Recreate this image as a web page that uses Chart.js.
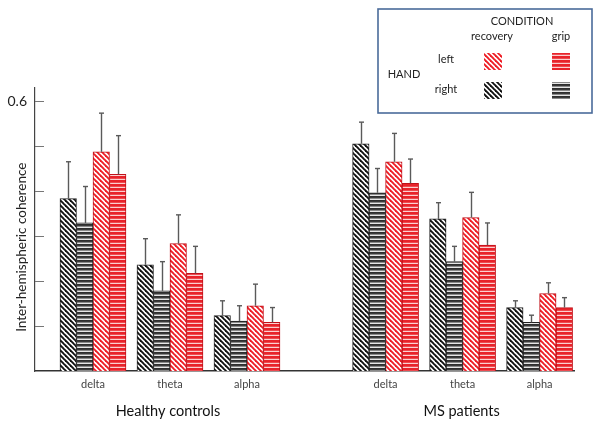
<!DOCTYPE html>
<html>
<head>
<meta charset="utf-8">
<script src="https://cdn.jsdelivr.net/npm/chart.js@4"></script>
<style>
html,body{margin:0;padding:0;background:#fff;}
#wrap{width:600px;height:425px;position:relative;}
</style>
</head>
<body>
<div id="wrap"><canvas id="c" width="600" height="425"></canvas></div>
<script>
// ---- data ----
const categories = ['delta', 'theta', 'alpha', 'delta', 'theta', 'alpha'];
const groupTitles = ['Healthy controls', 'MS patients'];
const seriesNames = ['right / recovery', 'right / grip', 'left / recovery', 'left / grip'];
const rightRecovery = [0.383, 0.236, 0.123, 0.505, 0.338, 0.141];
const rightGrip     = [0.329, 0.178, 0.111, 0.396, 0.243, 0.108];
const leftRecovery  = [0.487, 0.283, 0.145, 0.465, 0.341, 0.172];
const leftGrip      = [0.437, 0.217, 0.108, 0.417, 0.280, 0.141];
const rightRecoveryErr = [0.082, 0.058, 0.033, 0.048, 0.036, 0.015];
const rightGripErr     = [0.081, 0.065, 0.034, 0.054, 0.034, 0.016];
const leftRecoveryErr  = [0.086, 0.064, 0.048, 0.063, 0.056, 0.024];
const leftGripErr      = [0.086, 0.060, 0.033, 0.054, 0.049, 0.022];
const yTickValues = [0.1, 0.2, 0.3, 0.4, 0.5, 0.6];
const yTickLabels = ['', '', '', '', '', '0.6'];

// ---- layout (not data) ----
const slots = [0, 1, 2, 3.8, 4.8, 5.8];
const FONT = 'Lato, "Open Sans", sans-serif';

function diagPattern(color) {
  const s = 5, c = document.createElement('canvas');
  c.width = s; c.height = s;
  const g = c.getContext('2d');
  g.fillStyle = '#fff'; g.fillRect(0, 0, s, s);
  g.strokeStyle = color; g.lineWidth = 1.9;
  for (const o of [-s, 0, s]) { g.beginPath(); g.moveTo(o - 1, -1); g.lineTo(o + s + 1, s + 1); g.stroke(); }
  return g.createPattern(c, 'repeat');
}
function horizPattern(rows) {
  const c = document.createElement('canvas');
  c.width = 4; c.height = rows.length;
  const g = c.getContext('2d');
  rows.forEach((col, i) => { g.fillStyle = col; g.fillRect(0, i, 4, 1); });
  return g.createPattern(c, 'repeat');
}
const fills = [
  diagPattern('#111'),
  horizPattern(['#2e2e2e', '#3a3a3a', '#8a8a8a', '#e6e6e6']),
  diagPattern('#ee1c24'),
  horizPattern(['#e8232a', '#e8232a', '#ee4a50', '#fbd0d0'])
];
const borders = ['#222', '#222', '#c01018', '#c01018'];
const values = [rightRecovery, rightGrip, leftRecovery, leftGrip];
const errors = [rightRecoveryErr, rightGripErr, leftRecoveryErr, leftGripErr];

const datasets = values.map((vals, i) => ({
  label: seriesNames[i],
  data: vals.map((v, j) => ({ x: slots[j], y: v })),
  errors: errors[i],
  backgroundColor: fills[i],
  borderColor: borders[i],
  borderWidth: 1,
  barThickness: 16.5,
  grouped: true
}));

const extras = {
  id: 'extras',
  afterDatasetsDraw(chart) {
    const ctx = chart.ctx, ys = chart.scales.y;
    ctx.save();
    chart.data.datasets.forEach((ds, i) => {
      const meta = chart.getDatasetMeta(i);
      meta.data.forEach((el, j) => {
        const top = ys.getPixelForValue(ds.data[j].y + ds.errors[j]);
        const x = Math.round(el.x) + 0.5;
        ctx.strokeStyle = '#5a5a5a'; ctx.lineWidth = 1.4;
        ctx.beginPath(); ctx.moveTo(x, el.y); ctx.lineTo(x, top); ctx.stroke();
        ctx.beginPath(); ctx.moveTo(x - 2.5, top); ctx.lineTo(x + 2.5, top); ctx.stroke();
      });
    });
    const xl = chart.scales.x.left;
    ctx.strokeStyle = '#777'; ctx.lineWidth = 1;
    yTickValues.forEach(v => {
      const y = Math.round(ys.getPixelForValue(v)) + 0.5;
      ctx.beginPath(); ctx.moveTo(xl, y); ctx.lineTo(xl + 9, y); ctx.stroke();
    });
    ctx.restore();
  },
  afterDraw(chart) {
    const ctx = chart.ctx, xs = chart.scales.x, ys = chart.scales.y;
    ctx.save();
    ctx.fillStyle = '#222';
    ctx.font = '13.5px ' + FONT;
    ctx.textAlign = 'center'; ctx.textBaseline = 'middle';
    ctx.translate(21.5, (ys.top + ys.bottom) / 2 + 18);
    ctx.rotate(-Math.PI / 2);
    ctx.fillText('Inter-hemispheric coherence', 0, 0);
    ctx.setTransform(1, 0, 0, 1, 0, 0);
    ctx.font = '14.5px ' + FONT;
    ctx.fillStyle = '#111';
    ctx.fillText(groupTitles[0], xs.getPixelForValue(slots[1]) - 2, 411);
    ctx.fillText(groupTitles[1], xs.getPixelForValue(slots[4]) - 1, 411);
    ctx.fillStyle = '#fff';
    ctx.fillRect(378, 9, 214, 104);
    ctx.strokeStyle = '#4a6b9a'; ctx.lineWidth = 1.6;
    ctx.strokeRect(378, 9, 214, 104);
    ctx.fillStyle = '#222';
    ctx.font = '11px ' + FONT;
    ctx.fillText('CONDITION', 522, 21);
    ctx.fillText('recovery', 492, 36.5);
    ctx.fillText('grip', 561, 36.5);
    ctx.fillText('left', 446, 59);
    ctx.fillText('right', 446, 89);
    ctx.fillText('HAND', 404, 74.5);
    const sw = [[2, 484, 53], [3, 552, 53], [0, 484, 82], [1, 552, 82]];
    sw.forEach(([k, x, y]) => {
      ctx.fillStyle = fills[k];
      ctx.fillRect(x, y, 18, 17);
    });
    ctx.restore();
  }
};

new Chart(document.getElementById('c'), {
  type: 'bar',
  data: { datasets },
  plugins: [extras],
  options: {
    responsive: false,
    animation: false,
    events: [],
    layout: { padding: { left: 0, right: 26, top: 87.5, bottom: 0 } },
    plugins: { legend: { display: false }, tooltip: { enabled: false } },
    scales: {
      x: {
        type: 'linear',
        offset: false,
        min: -0.753, max: 6.247,
        afterBuildTicks: s => { s.ticks = slots.map(v => ({ value: v })); },
        afterFit: s => { s.height = 425 - 371; },
        ticks: {
          autoSkip: false, maxRotation: 0, padding: 7,
          color: '#444', font: { family: FONT, size: 11 },
          callback: (v, i) => categories[i]
        },
        grid: { drawOnChartArea: false, drawTicks: false, offset: false },
        border: { display: true, color: '#333', width: 1.5 }
      },
      y: {
        min: 0, max: 0.63,
        afterBuildTicks: s => { s.ticks = yTickValues.map(v => ({ value: v })); },
        afterFit: s => { s.width = 35; },
        ticks: {
          padding: 8, color: '#222', font: { family: FONT, size: 14 },
          callback: (v, i) => yTickLabels[i]
        },
        grid: { drawOnChartArea: false, drawTicks: false },
        border: { display: true, color: '#444', width: 1.2 }
      }
    }
  }
});
</script>
</body>
</html>
